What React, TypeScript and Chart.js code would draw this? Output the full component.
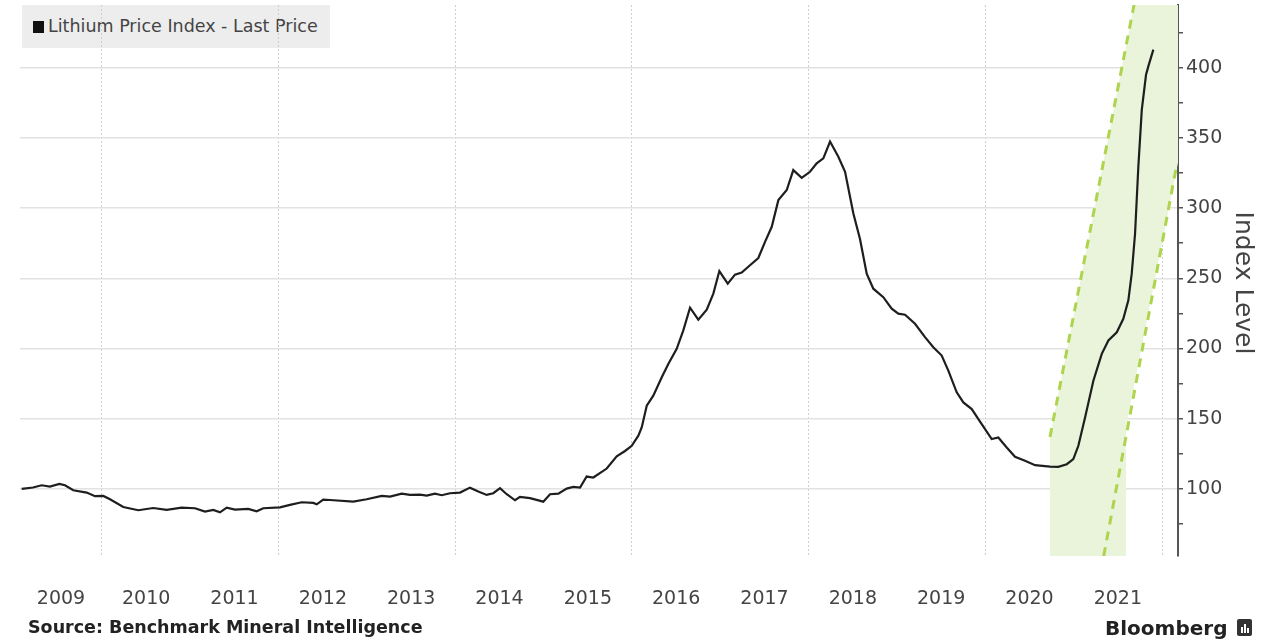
import React, { useEffect, useRef } from 'react';
import { Chart, registerables } from 'chart.js';

Chart.register(...registerables);

const FONT = '"DejaVu Sans", Verdana, sans-serif';

// Axis extents (years / index level)
const xMin = 2009.072;
const xMax = 2022.181;
const yMin = 52.2;
const yMax = 444.7;

const yearLabels = [2009, 2010, 2011, 2012, 2013, 2014, 2015, 2016, 2017, 2018, 2019, 2020, 2021];
const gridYears = [2010, 2012, 2014, 2016, 2018, 2020, 2022];
const yTickValues = [75, 100, 125, 150, 175, 200, 225, 250, 275, 300, 325, 350, 375, 400, 425];
const yLabelValues = [100, 150, 200, 250, 300, 350, 400];

const priceDates = [
  2009.091, 2009.219, 2009.317, 2009.411, 2009.517, 2009.581, 2009.675, 2009.827, 2009.921, 2010.015,
  2010.091, 2010.241, 2010.411, 2010.581, 2010.732, 2010.902, 2011.053, 2011.166, 2011.26, 2011.336,
  2011.412, 2011.506, 2011.656, 2011.751, 2011.826, 2012.015, 2012.128, 2012.261, 2012.392, 2012.431,
  2012.505, 2012.581, 2012.845, 2012.997, 2013.167, 2013.261, 2013.393, 2013.487, 2013.6, 2013.676,
  2013.77, 2013.846, 2013.94, 2014.053, 2014.166, 2014.26, 2014.355, 2014.43, 2014.506, 2014.582,
  2014.676, 2014.732, 2014.845, 2014.996, 2015.072, 2015.166, 2015.261, 2015.336, 2015.412, 2015.487,
  2015.562, 2015.714, 2015.827, 2015.921, 2015.997, 2016.072, 2016.11, 2016.167, 2016.241, 2016.337,
  2016.411, 2016.506, 2016.581, 2016.657, 2016.751, 2016.846, 2016.921, 2016.989, 2017.084, 2017.166,
  2017.242, 2017.336, 2017.43, 2017.506, 2017.582, 2017.657, 2017.752, 2017.826, 2017.921, 2018.015,
  2018.091, 2018.166, 2018.242, 2018.336, 2018.412, 2018.506, 2018.581, 2018.657, 2018.732, 2018.845,
  2018.94, 2019.015, 2019.091, 2019.204, 2019.317, 2019.411, 2019.506, 2019.581, 2019.676, 2019.751,
  2019.846, 2019.959, 2020.072, 2020.147, 2020.242, 2020.336, 2020.449, 2020.563, 2020.732, 2020.826,
  2020.922, 2020.996, 2021.053, 2021.129, 2021.223, 2021.318, 2021.393, 2021.488, 2021.562, 2021.619,
  2021.657, 2021.695, 2021.732, 2021.771, 2021.819, 2021.845, 2021.902,
];

const priceValues = [
  100, 101, 102.6, 101.7, 103.6, 102.6, 99, 97.4, 94.8, 95,
  92.6, 87.1, 84.8, 86.4, 85, 86.6, 86.2, 83.8, 85, 83.3,
  86.6, 85.2, 85.7, 84.1, 86.2, 86.9, 88.6, 90.5, 90, 89,
  92.4, 92.1, 90.9, 92.6, 95, 94.5, 96.6, 95.7, 95.9, 95.2,
  96.6, 95.5, 96.9, 97.4, 100.9, 98.1, 95.7, 96.9, 100.5, 96.2,
  91.9, 94.3, 93.4, 90.9, 96.2, 96.6, 100.2, 101.4, 100.9, 108.8,
  108.1, 114.5, 123.2, 127, 130.7, 137.9, 143.8, 159.3, 166.4, 179.5,
  189, 199.8, 212.9, 229.1, 220.5, 227.6, 239.1, 255.2, 246.2, 252.6,
  254.1, 259.3, 264.5, 276, 286.7, 305.7, 312.9, 327.1, 321.6, 325.9,
  331.9, 335.5, 347.4, 336.6, 325.9, 296.2, 278, 253.3, 242.6, 236.6,
  228.4, 224.8, 224.1, 217.6, 208.1, 200.9, 195, 184.3, 168.8, 161.6,
  156.9, 146.2, 135.5, 136.6, 129.5, 122.9, 120, 116.9, 115.9, 115.7,
  117.6, 121.2, 130.7, 150.9, 177.1, 196.2, 205.7, 211.6, 221.2, 234.3,
  253.3, 281.9, 329.5, 370, 395, 401, 412.9,
];

// Green trend channel (shaded area and dashed borders)
const bandFillDates = [2020.732, 2020.732, 2021.683, 2022.181, 2022.181, 2021.593, 2021.593];
const bandFillValues = [52.2, 137, 444.7, 444.7, 332.5, 145, 52.2];
const upperDashDates = [2020.732, 2021.683];
const upperDashValues = [137, 444.7];
const lowerDashDates = [2021.34, 2022.17];
const lowerDashValues = [52.2, 332.1];

const legendLabel = 'Lithium Price Index - Last Price';
const yAxisTitle = 'Index Level';
const sourceText = 'Source: Benchmark Mineral Intelligence';

const toPoints = (xs: number[], ys: number[]) => xs.map((x, i) => ({ x, y: ys[i] }));

const yTitlePlugin = {
  id: 'yTitle',
  afterDraw(chart: any) {
    const ctx = chart.ctx;
    ctx.save();
    ctx.translate(1242, 283);
    ctx.rotate(Math.PI / 2);
    ctx.font = `25px ${FONT}`;
    ctx.fillStyle = '#444';
    ctx.textAlign = 'center';
    ctx.textBaseline = 'middle';
    ctx.fillText(yAxisTitle, 0, 0);
    ctx.restore();
  },
};

export default function App() {
  const canvasRef = useRef<HTMLCanvasElement | null>(null);

  useEffect(() => {
    if (!canvasRef.current) return;
    const labelTicks = yearLabels.map((y) => (Math.max(y, xMin) + Math.min(y + 1, xMax)) / 2);
    const xTicks = [...labelTicks, ...gridYears].sort((a, b) => a - b);

    const chart = new Chart(canvasRef.current, {
      type: 'line',
      data: {
        datasets: [
          {
            label: legendLabel,
            data: toPoints(priceDates, priceValues),
            borderColor: '#1e1e1e',
            borderWidth: 2.2,
            pointRadius: 0,
            tension: 0,
            fill: false,
          },
          {
            label: 'upper',
            data: toPoints(upperDashDates, upperDashValues),
            borderColor: '#aed44e',
            borderWidth: 3,
            borderDash: [9, 7],
            pointRadius: 0,
            fill: false,
          },
          {
            label: 'lower',
            data: toPoints(lowerDashDates, lowerDashValues),
            borderColor: '#aed44e',
            borderWidth: 3,
            borderDash: [9, 7],
            pointRadius: 0,
            fill: false,
          },
          {
            label: 'band',
            data: toPoints(bandFillDates, bandFillValues),
            borderWidth: 0,
            borderColor: 'rgba(0,0,0,0)',
            backgroundColor: '#e9f4da',
            pointRadius: 0,
            fill: 'shape',
          } as any,
        ],
      },
      options: {
        responsive: false,
        animation: false,
        devicePixelRatio: 1,
        layout: { padding: { left: 20, top: 5, right: 0, bottom: 0 } },
        plugins: { legend: { display: false }, tooltip: { enabled: false } },
        scales: {
          x: {
            type: 'linear',
            min: xMin,
            max: xMax,
            afterBuildTicks: (scale: any) => {
              scale.ticks = xTicks.map((v) => ({ value: v }));
            },
            afterFit: (scale: any) => {
              scale.height = 84;
              scale.paddingLeft = 0;
              scale.paddingRight = 0;
            },
            ticks: {
              autoSkip: false,
              maxRotation: 0,
              minRotation: 0,
              padding: 32,
              color: '#444',
              font: { family: FONT, size: 19 },
              callback: (v: any) => (gridYears.includes(v) ? '' : String(Math.floor(v))),
            },
            grid: {
              drawTicks: false,
              color: (ctx: any) =>
                ctx.tick && gridYears.includes(ctx.tick.value) ? '#cfcfcf' : 'rgba(0,0,0,0)',
              lineWidth: 1,
            },
            border: { display: false, dash: [2, 2] },
          },
          y: {
            type: 'linear',
            position: 'right',
            min: yMin,
            max: yMax,
            afterBuildTicks: (scale: any) => {
              scale.ticks = yTickValues.map((v) => ({ value: v }));
            },
            afterFit: (scale: any) => {
              scale.width = 93;
              scale.paddingTop = 0;
              scale.paddingBottom = 0;
            },
            ticks: {
              autoSkip: false,
              padding: 3,
              color: '#444',
              font: { family: FONT, size: 19 },
              callback: (v: any) => (yLabelValues.includes(v) ? String(v) : ''),
            },
            grid: {
              color: (ctx: any) =>
                ctx.tick && yLabelValues.includes(ctx.tick.value) ? '#e2e2e2' : 'rgba(0,0,0,0)',
              lineWidth: 1.5,
              tickColor: '#555',
              tickLength: 5,
              tickWidth: 1.5,
            },
            border: { display: true, color: '#555', width: 2 },
          },
        },
      },
      plugins: [yTitlePlugin],
    });
    return () => chart.destroy();
  }, []);

  return (
    <div
      style={{
        position: 'absolute',
        left: 0,
        top: 0,
        width: 1271,
        height: 640,
        overflow: 'hidden',
        background: '#fff',
        fontFamily: FONT,
      }}
    >
      <div
        style={{
          position: 'absolute',
          left: 22,
          top: 5,
          width: 308,
          height: 43,
          background: '#ededed',
        }}
      >
        <div
          style={{
            position: 'absolute',
            left: 11,
            top: 16,
            width: 11,
            height: 12,
            background: '#111',
          }}
        />
        <div
          style={{
            position: 'absolute',
            left: 26,
            top: 11,
            fontSize: 17.5,
            lineHeight: '20px',
            color: '#444',
            whiteSpace: 'nowrap',
          }}
        >
          {legendLabel}
        </div>
      </div>
      <canvas
        ref={canvasRef}
        width={1271}
        height={640}
        style={{ position: 'absolute', left: 0, top: 0, width: 1271, height: 640, display: 'block' }}
      />
      <div
        style={{
          position: 'absolute',
          left: 28,
          top: 617,
          fontSize: 17.5,
          lineHeight: '20px',
          fontWeight: 'bold',
          color: '#222',
          whiteSpace: 'nowrap',
        }}
      >
        {sourceText}
      </div>
      <div
        style={{
          position: 'absolute',
          left: 1105,
          top: 618,
          fontSize: 20,
          lineHeight: '20px',
          fontWeight: 'bold',
          color: '#222',
          whiteSpace: 'nowrap',
        }}
      >
        Bloomberg
      </div>
      <div
        style={{
          position: 'absolute',
          left: 1237,
          top: 619,
          width: 15,
          height: 17,
          borderRadius: 2,
          background: '#333',
        }}
      >
        <div style={{ position: 'absolute', left: 4, top: 8, width: 2, height: 6, background: '#fff' }} />
        <div style={{ position: 'absolute', left: 7, top: 5, width: 2, height: 9, background: '#fff' }} />
        <div style={{ position: 'absolute', left: 10, top: 9, width: 2, height: 5, background: '#fff' }} />
      </div>
    </div>
  );
}
